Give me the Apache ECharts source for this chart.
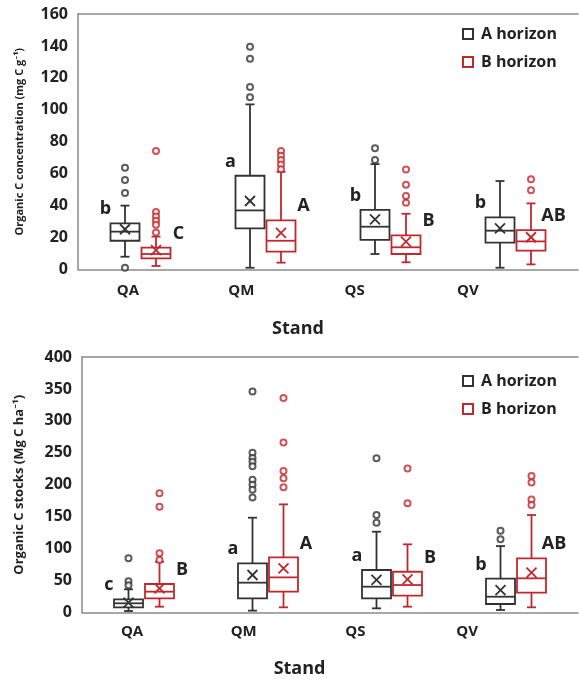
<!DOCTYPE html>
<html>
<head>
<meta charset="utf-8">
<script src="https://cdn.jsdelivr.net/npm/echarts@6/dist/echarts.min.js"></script>
<style>
html,body{margin:0;padding:0;background:#fff;}
#chart{width:579px;height:679px;}
</style>
</head>
<body>
<div id="chart"></div>
<script>
// ---------- data ----------
const categories = ['QA', 'QM', 'QS', 'QV'];
const seriesNames = ['A horizon', 'B horizon'];

// Organic C concentration (mg C g-1): [min, Q1, median, Q3, max]
const concA_box = [[8, 18, 23.7, 28.9, 40], [1.1, 25.8, 37, 58.7, 103.4], [9.7, 18.5, 26.8, 37.3, 66], [1.1, 16.8, 24.3, 32.7, 55.4]];
const concA_mean = [25.2, 42.9, 31.4, 25.8];
const concA_out = [[63.7, 56, 47.9, 1.1], [139.5, 132, 114.3, 107.8], [75.9, 68.6], []];
const concA_letters = ['b', 'a', 'b', 'b'];

const concB_box = [[2.2, 7, 9.7, 13.7, 20.6], [4.3, 11.2, 18, 30.8, 61.2], [4.5, 9.7, 13.9, 21.4, 34.9], [3.2, 11.8, 17.6, 24.7, 41.4]];
const concB_mean = [12.2, 23, 17.4, 20.2];
const concB_out = [[74.2, 36, 33.2, 30.6, 28, 23.1], [74.2, 71.3, 68.6, 65.7, 62.8], [62.7, 53.1, 46, 41.8], [56.5, 49.6]];
const concB_letters = ['C', 'A', 'B', 'AB'];

// Organic C stocks (Mg C ha-1)
const stockA_box = [[2.3, 8.1, 14.4, 20.6, 36.3], [2.9, 22.2, 46.7, 77, 148.4], [6.5, 22.2, 40.4, 66.5, 126.5], [3.9, 13.3, 24.7, 53, 104]];
const stockA_mean = [15.4, 58.7, 50.9, 35.2];
const stockA_out = [[84.8, 49, 42.5], [346, 250, 242, 236, 229, 208, 200, 192, 180], [241.3, 152.6, 140.6], [128, 114.5]];
const stockA_letters = ['c', 'a', 'a', 'b'];

const stockB_box = [[9.1, 22.2, 32.6, 44.6, 79.5], [8.1, 32.6, 55, 86.3, 169.3], [9.1, 26.3, 43, 63.8, 106.7], [8.1, 31, 53.5, 84.8, 152.6]];
const stockB_mean = [37.8, 69.1, 52, 62.3];
const stockB_out = [[186.5, 165.6, 92.6, 82], [336, 266.3, 221.4, 210, 195.9], [225.6, 170.9], [213.6, 203.7, 177.1, 168.2]];
const stockB_letters = ['B', 'A', 'B', 'AB'];

const concTicks = {min: 0, max: 160, interval: 20};
const stockTicks = {min: 0, max: 400, interval: 50};

// ---------- style ----------
const FONT = '"Open Sans", "Noto Sans", sans-serif';
const BLACK = '#333333';
const RED = '#c0282e';
const AXIS = '#8a8a8a';
const TEXT = '#222222';
const BOX_W = 29, CAP_W = 9, OFF = 15.5;

function boxRender(boxes, means, letters, color, offset, letterDx) {
  return function (params, api) {
    const i = params.dataIndex;
    const b = boxes[i];
    const cx = api.coord([i, 0])[0] + offset;
    const Y = v => api.coord([i, v])[1];
    const yMin = Y(b[0]), yQ1 = Y(b[1]), yMed = Y(b[2]), yQ3 = Y(b[3]), yMax = Y(b[4]), yMean = Y(means[i]);
    const hw = BOX_W / 2, cw = CAP_W / 2, m = 5;
    const st = {stroke: color, lineWidth: 1.8, fill: null};
    const L = (x1, y1, x2, y2) => ({type: 'line', shape: {x1, y1, x2, y2}, style: st});
    return {
      type: 'group',
      children: [
        L(cx, yMax, cx, yQ3),
        L(cx, yQ1, cx, yMin),
        L(cx - cw, yMax, cx + cw, yMax),
        L(cx - cw, yMin, cx + cw, yMin),
        {type: 'rect', shape: {x: cx - hw, y: yQ3, width: 2 * hw, height: yQ1 - yQ3}, style: st},
        L(cx - hw, yMed, cx + hw, yMed),
        L(cx - m, yMean - m, cx + m, yMean + m),
        L(cx - m, yMean + m, cx + m, yMean - m),
        {type: 'text', style: {text: letters[i], x: cx + letterDx, y: yQ3 - 14, align: 'center', verticalAlign: 'middle',
          fontSize: 18, fontWeight: 'bold', fontFamily: FONT, fill: TEXT}}
      ]
    };
  };
}

function boxSeries(name, gi, boxes, means, letters, color, offset, letterDx) {
  return {
    type: 'custom', name, xAxisIndex: gi, yAxisIndex: gi,
    renderItem: boxRender(boxes, means, letters, color, offset, letterDx),
    data: boxes.map((b, i) => [i, b[0], b[4]]),
    encode: {x: 0, y: [1, 2]},
    itemStyle: {color}, clip: false, z: 3
  };
}

function outSeries(name, gi, outs, color, offset) {
  const data = [];
  outs.forEach((arr, i) => arr.forEach(v => data.push([i, v])));
  return {
    type: 'scatter', name, xAxisIndex: gi, yAxisIndex: gi, data,
    symbol: 'emptyCircle', symbolSize: 6, symbolOffset: [offset, 0],
    itemStyle: {color, borderColor: color, borderWidth: 1.5}, z: 4
  };
}

const tickLabel = {fontSize: 16, fontWeight: 'bold', fontFamily: FONT, color: TEXT, margin: 10};
const catLabel = {fontSize: 15, fontWeight: 'bold', fontFamily: FONT, color: TEXT};

function legendFor(top) {
  return {
    orient: 'vertical', left: 462, top, itemWidth: 10, itemHeight: 10, itemGap: 12, padding: 0,
    selectedMode: false,
    textStyle: {fontSize: 16, fontWeight: 'bold', fontFamily: FONT, color: TEXT, padding: [0, 0, 0, 3]},
    data: [
      {name: seriesNames[0], icon: 'rect', itemStyle: {color: '#fff', borderColor: BLACK, borderWidth: 2}},
      {name: seriesNames[1], icon: 'rect', itemStyle: {color: '#fff', borderColor: RED, borderWidth: 2}}
    ]
  };
}

const chart = echarts.init(document.getElementById('chart'), null, {renderer: 'canvas'});
chart.setOption({
  animation: false,
  backgroundColor: '#fff',
  grid: [
    {left: 78, top: 14, width: 500, height: 255.5},
    {left: 82, top: 357, width: 496, height: 255.5},
    {left: 71.3, top: 14, width: 453.3, height: 255.5},
    {left: 76.2, top: 357, width: 446.7, height: 255.5}
  ],
  legend: [legendFor(26), legendFor(373)],
  xAxis: [
    {gridIndex: 0, type: 'category', data: categories, axisLine: {lineStyle: {color: AXIS, width: 1.5}}, axisTick: {show: false}, axisLabel: {show: false}},
    {gridIndex: 1, type: 'category', data: categories, axisLine: {lineStyle: {color: AXIS, width: 1.5}}, axisTick: {show: false}, axisLabel: {show: false}},
    {gridIndex: 2, type: 'category', data: categories, axisLine: {show: false}, axisTick: {show: false},
      axisLabel: Object.assign({margin: 14}, catLabel),
      name: 'Stand', nameLocation: 'middle', nameGap: 50,
      nameTextStyle: {fontSize: 18, fontWeight: 'bold', fontFamily: FONT, color: TEXT}},
    {gridIndex: 3, type: 'category', data: categories, axisLine: {show: false}, axisTick: {show: false},
      axisLabel: Object.assign({margin: 13}, catLabel),
      name: 'Stand', nameLocation: 'middle', nameGap: 49,
      nameTextStyle: {fontSize: 18, fontWeight: 'bold', fontFamily: FONT, color: TEXT}},
    {gridIndex: 0, type: 'category', data: categories, position: 'top', axisLine: {lineStyle: {color: AXIS, width: 1.5}}, axisTick: {show: false}, axisLabel: {show: false}},
    {gridIndex: 1, type: 'category', data: categories, position: 'top', axisLine: {lineStyle: {color: AXIS, width: 1.5}}, axisTick: {show: false}, axisLabel: {show: false}}
  ],
  yAxis: [
    Object.assign({gridIndex: 0, type: 'value', splitLine: {show: false}, axisLine: {show: true, lineStyle: {color: AXIS, width: 1.5}},
      axisTick: {show: false}, axisLabel: tickLabel,
      name: 'Organic C concentration (mg C g⁻¹)', nameLocation: 'middle', nameGap: 53,
      nameTextStyle: {fontSize: 11, fontWeight: 'bold', fontFamily: FONT, color: TEXT}}, concTicks),
    Object.assign({gridIndex: 1, type: 'value', splitLine: {show: false}, axisLine: {show: true, lineStyle: {color: AXIS, width: 1.5}},
      axisTick: {show: false}, axisLabel: tickLabel,
      name: 'Organic C stocks (Mg C ha⁻¹)', nameLocation: 'middle', nameGap: 56,
      nameTextStyle: {fontSize: 13, fontWeight: 'bold', fontFamily: FONT, color: TEXT}}, stockTicks),
    {gridIndex: 2, type: 'value', show: false},
    {gridIndex: 3, type: 'value', show: false}
  ],
  series: [
    boxSeries(seriesNames[0], 0, concA_box, concA_mean, concA_letters, BLACK, -OFF, -19.5),
    boxSeries(seriesNames[1], 0, concB_box, concB_mean, concB_letters, RED, OFF, 22.5),
    outSeries(seriesNames[0], 0, concA_out, BLACK, -OFF),
    outSeries(seriesNames[1], 0, concB_out, RED, OFF),
    boxSeries(seriesNames[0], 1, stockA_box, stockA_mean, stockA_letters, BLACK, -OFF, -19.5),
    boxSeries(seriesNames[1], 1, stockB_box, stockB_mean, stockB_letters, RED, OFF, 22.5),
    outSeries(seriesNames[0], 1, stockA_out, BLACK, -OFF),
    outSeries(seriesNames[1], 1, stockB_out, RED, OFF)
  ]
});
</script>
</body>
</html>
